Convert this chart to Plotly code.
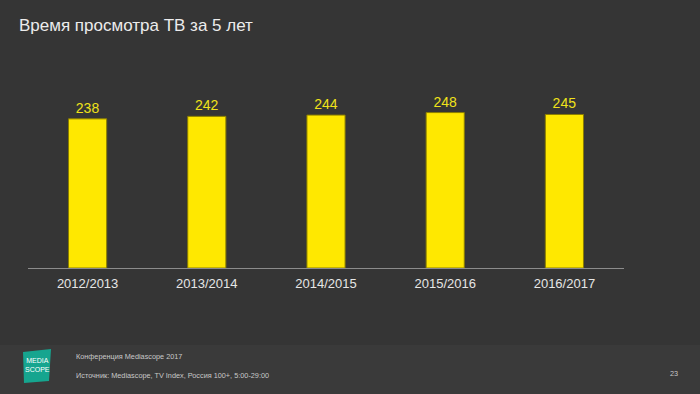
import plotly.graph_objects as go

categories = ["2012/2013", "2013/2014", "2014/2015", "2015/2016", "2016/2017"]
values = [238, 242, 244, 248, 245]

title_text = "Время просмотра ТВ за 5 лет"
footer_line1 = "Конференция Mediascope 2017"
footer_line2 = "Источник: Mediascope, TV Index, Россия 100+, 5:00-29:00"
page_number = "23"

W, H = 700, 394
def px(x):
    return x / W
def py(y):
    return (H - y) / H

FONT = "Liberation Sans, Arial, sans-serif"

fig = go.Figure()
fig.add_trace(go.Bar(
    x=categories, y=values,
    marker=dict(color="#FFE800", line=dict(color="#8a7d00", width=1)),
    text=[str(v) for v in values],
    textposition="outside",
    textfont=dict(color="#F0E21A", size=14, family=FONT),
    cliponaxis=False,
    hoverinfo="skip",
))

logo_path = "M {} {} L {} {} L {} {} L {} {} Z".format(
    px(23), py(352), px(51), py(349), px(49), py(381), px(24), py(383))

fig.update_layout(
    width=W, height=H,
    margin=dict(l=0, r=0, t=0, b=0),
    paper_bgcolor="#353535",
    plot_bgcolor="rgba(0,0,0,0)",
    showlegend=False,
    bargap=0.68,
    xaxis=dict(domain=[px(28), px(624)], showgrid=False, zeroline=False,
               showline=True, linecolor="#8c8c8c", linewidth=1,
               ticks="outside", ticklen=3, tickcolor="rgba(0,0,0,0)",
               tickfont=dict(color="#e6e6e6", size=13, family=FONT),
               fixedrange=True),
    yaxis=dict(domain=[py(268), py(80)], range=[0, 300], visible=False,
               fixedrange=True),
    shapes=[
        dict(type="rect", xref="paper", yref="paper", x0=0, x1=1, y0=0, y1=py(345),
             fillcolor="#3a3a3a", line=dict(width=0), layer="below"),
        dict(type="path", xref="paper", yref="paper", path=logo_path,
             fillcolor="#16a58f", line=dict(width=0)),
    ],
    annotations=[
        dict(text=title_text, x=px(17), y=py(25), xref="paper", yref="paper",
             xanchor="left", yanchor="middle", showarrow=False,
             font=dict(color="#ececec", size=17, family=FONT)),
        dict(text=footer_line1, x=px(74), y=py(356), xref="paper", yref="paper",
             xanchor="left", yanchor="middle", showarrow=False,
             font=dict(color="#c8c8c8", size=7.3, family=FONT)),
        dict(text=footer_line2, x=px(74), y=py(375), xref="paper", yref="paper",
             xanchor="left", yanchor="middle", showarrow=False,
             font=dict(color="#c8c8c8", size=7.3, family=FONT)),
        dict(text=page_number, x=px(674), y=py(373), xref="paper", yref="paper",
             xanchor="center", yanchor="middle", showarrow=False,
             font=dict(color="#c8c8c8", size=7.3, family=FONT)),
        dict(text="MEDIA<br>SCOPE", x=px(37), y=py(365), xref="paper", yref="paper",
             xanchor="center", yanchor="middle", showarrow=False,
             font=dict(color="#ffffff", size=7, family=FONT)),
    ],
)

fig.write_html("out.html", config={"displayModeBar": False},
               post_script="document.body.style.margin='0';document.body.style.overflow='hidden';")
